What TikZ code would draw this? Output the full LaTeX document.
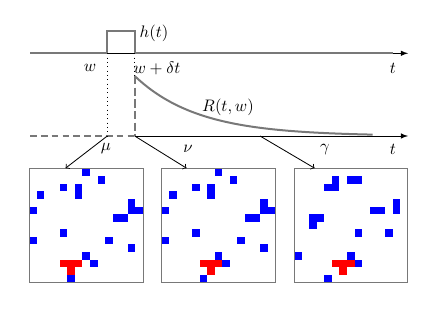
\documentclass[tikz,border=0pt]{standalone}
\usepackage{amsmath,amssymb}
\usepackage{xcolor}
\definecolor{gristraza}{RGB}{120,120,120}
\definecolor{celdaazul}{RGB}{0,0,255}
\definecolor{celdaroja}{RGB}{255,0,0}

\tikzset{
  caja/.style={draw=gristraza, line width=0.6pt, minimum width=68.2pt,
    minimum height=68.2pt, inner sep=0pt},
  traza/.style={gristraza, line width=1.2pt},
  etiq/.style={inner sep=1pt},
}
% celdas de la rejilla: origen, lista col/fila, color
\newcommand{\celdas}[3]{%
  \begin{scope}[shift={(#1)}]
    \foreach \c/\r in {#2} \fill[#3] (\c*7.58,\r*7.58) rectangle ++(7.58,7.58);
  \end{scope}}

\begin{document}
\begin{tikzpicture}[>=latex, x=0.6pt, y=-0.6pt]
    \useasboundingbox (0,0) rectangle (447,316);

    % Puntos de los ejes
    \coordinate (ejeA) at (30,53.3);
    \coordinate (finA) at (408,53.3);
    \coordinate (ejeB) at (30,136);
    \coordinate (finB) at (408,136);
    \coordinate (wA) at (107.3,53.3);
    \coordinate (wdA) at (134.7,53.3);
    \coordinate (mu) at (107.3,136);
    \coordinate (nu) at (134.7,136);
    \coordinate (gam) at (260,136);
    \coordinate (r0) at (134.7,76);

    % Eje superior con el pulso h(t)
    \draw[->, line width=0.5pt] (ejeA) -- (finA);
    \draw[traza] (ejeA) -- (wA) -- (107.3,30.7) -- (134.7,30.7) -- (wdA) -- (393,53.3);

    % Eje inferior
    \draw[traza, dash pattern=on 4pt off 2.5pt] (ejeB) -- (nu);
    \draw[->, line width=0.5pt] (nu) -- (finB);

    % Verticales
    \draw[dotted, line width=0.6pt] (wA) -- (mu);
    \draw[dotted, line width=0.6pt] (wdA) -- (r0);
    \draw[traza, dash pattern=on 5pt off 2pt] (r0) -- (nu);

    % Respuesta R(t,w)
    \draw[traza] plot[domain=0:238, samples=60] ({134.7+\x},{136-60*exp(-\x/63)});

    % Etiquetas
    \node[etiq] (ht) at (154,33) {$h(t)$};
    \node[etiq] (w) at (90,68) {$w$};
    \node[etiq] (wdt) at (157,68) {$w+\delta t$};
    \node[etiq] (tA) at (393,68) {$t$};
    \node[etiq] (rtw) at (228,107) {$R(t,w)$};
    \node[etiq] (lmu) at (106,149) {$\mu$};
    \node[etiq] (lnu) at (188,149) {$\nu$};
    \node[etiq] (lgam) at (325,150) {$\gamma$};
    \node[etiq] (tB) at (393,149) {$t$};

    % Rejillas
    \celdas{29.3,168.7}{7/0,9/1,4/2,6/2,6/3,1/3,13/4,13/5,14/5,0/5,11/6,12/6,4/8,0/9,10/9,13/10,7/11,8/12,5/14}{celdaazul}
    \celdas{29.3,168.7}{4/12,5/12,6/12,5/13}{celdaroja}
    \celdas{161.6,168.7}{7/0,9/1,4/2,6/2,6/3,1/3,13/4,13/5,14/5,0/5,11/6,12/6,4/8,0/9,10/9,13/10,7/11,8/12,5/14}{celdaazul}
    \celdas{161.6,168.7}{5/12,6/12,7/12,6/13}{celdaroja}
    \celdas{294,168.7}{5/1,5/2,4/2,7/1,8/1,13/4,13/5,10/5,11/5,2/6,3/6,2/7,8/8,12/8,0/11,7/11,8/12,4/14}{celdaazul}
    \celdas{294,168.7}{5/12,6/12,7/12,6/13}{celdaroja}

    \node[caja] (box1) at (86.2,225.5) {};
    \node[caja] (box2) at (218.5,225.5) {};
    \node[caja] (box3) at (350.9,225.5) {};

    % Flechas a las rejillas
    \draw[-to, line width=0.5pt] (mu) -- ([xshift=22pt]box1.north west);
    \draw[-to, line width=0.5pt] (nu) -- ([xshift=15.2pt]box2.north west);
    \draw[-to, line width=0.5pt] (gam) -- ([xshift=12.6pt]box3.north west);
\end{tikzpicture}
\end{document}
